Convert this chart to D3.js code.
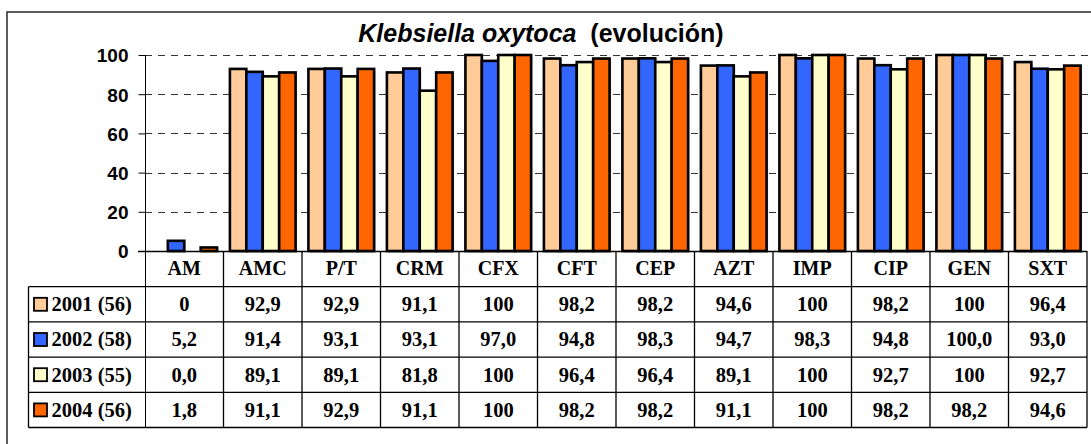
<!DOCTYPE html>
<html>
<head>
<meta charset="utf-8">
<script src="https://cdn.jsdelivr.net/npm/d3@7"></script>
<style>
  html, body { margin: 0; padding: 0; background: #fff; }
  svg { display: block; }
</style>
</head>
<body>
<svg id="chart" width="1091" height="444"></svg>
<script>
// ---- data ----
const categories = ["AM", "AMC", "P/T", "CRM", "CFX", "CFT", "CEP", "AZT", "IMP", "CIP", "GEN", "SXT"];
const seriesNames = ["2001 (56)", "2002 (58)", "2003 (55)", "2004 (56)"];
const values2001 = [0, 92.9, 92.9, 91.1, 100, 98.2, 98.2, 94.6, 100, 98.2, 100, 96.4];
const values2002 = [5.2, 91.4, 93.1, 93.1, 97.0, 94.8, 98.3, 94.7, 98.3, 94.8, 100.0, 93.0];
const values2003 = [0.0, 89.1, 89.1, 81.8, 100, 96.4, 96.4, 89.1, 100, 92.7, 100, 92.7];
const values2004 = [1.8, 91.1, 92.9, 91.1, 100, 98.2, 98.2, 91.1, 100, 98.2, 98.2, 94.6];
// table text as printed
const labels2001 = ["0", "92,9", "92,9", "91,1", "100", "98,2", "98,2", "94,6", "100", "98,2", "100", "96,4"];
const labels2002 = ["5,2", "91,4", "93,1", "93,1", "97,0", "94,8", "98,3", "94,7", "98,3", "94,8", "100,0", "93,0"];
const labels2003 = ["0,0", "89,1", "89,1", "81,8", "100", "96,4", "96,4", "89,1", "100", "92,7", "100", "92,7"];
const labels2004 = ["1,8", "91,1", "92,9", "91,1", "100", "98,2", "98,2", "91,1", "100", "98,2", "98,2", "94,6"];
const yTicks = [0, 20, 40, 60, 80, 100];
const colors = ["#FFCC99", "#3366FF", "#FFFFCC", "#FF6600"];

const seriesValues = [values2001, values2002, values2003, values2004];
const seriesLabels = [labels2001, labels2002, labels2003, labels2004];

// ---- layout ----
const svg = d3.select("#chart");
const plotLeft = 145, plotRight = 1087, plotTop = 55, plotBottom = 251;
const tableLeft = 28.5, rowH = 35.2;
const headerBottom = 286.7;

const x = d3.scaleBand().domain(categories).range([plotLeft, plotRight]).padding(0);
const xi = d3.scaleBand().domain(seriesNames).range([0, x.bandwidth()]).paddingInner(0).paddingOuter(0.39);
const y = d3.scaleLinear().domain([0, 100]).range([plotBottom, plotTop]);

const serif = "'Liberation Serif', 'Times New Roman', serif";
const sans = "'Liberation Sans', Arial, sans-serif";

// outer frame
svg.append("rect").attr("x", 7).attr("y", 12).attr("width", 1100).attr("height", 450)
  .attr("fill", "none").attr("stroke", "#333").attr("stroke-width", 1.6);

// title
const title = svg.append("text").attr("x", 541).attr("y", 41.5)
  .attr("text-anchor", "middle").attr("font-family", sans).attr("font-weight", "bold")
  .attr("font-size", 25).attr("fill", "#000");
title.append("tspan").attr("font-style", "italic").text("Klebsiella oxytoca");
title.append("tspan").text("\u00a0 (evolución)");

// gridlines
const grid = svg.append("g");
grid.selectAll("line").data(yTicks.filter(t => t > 0)).join("line")
  .attr("x1", plotLeft).attr("x2", 1091)
  .attr("y1", d => Math.round(y(d)) + 0.5).attr("y2", d => Math.round(y(d)) + 0.5)
  .attr("stroke", "#333").attr("stroke-width", 1).attr("stroke-dasharray", "7,6");

// y axis
const yAxis = d3.axisLeft(y).tickValues(yTicks).tickSize(7).tickPadding(10).tickFormat(d3.format("d"));
const gy = svg.append("g").attr("transform", `translate(${plotLeft + 0.5},0)`).call(yAxis);
gy.select(".domain").remove();
gy.selectAll(".tick line").attr("stroke", "#000").attr("stroke-width", 1);
gy.selectAll(".tick text").attr("font-family", sans).attr("font-weight", "bold")
  .attr("font-size", 19).attr("fill", "#000").attr("dy", "0.36em");

// bars
const barData = [];
categories.forEach((c, ci) => {
  seriesNames.forEach((s, si) => {
    barData.push({ cat: c, series: s, si: si, value: seriesValues[si][ci] });
  });
});
const visible = barData.filter(d => d.value > 0);
const bars = svg.append("g");
// shadow
bars.selectAll("rect.shadow").data(visible).join("rect").attr("class", "shadow")
  .attr("x", d => x(d.cat) + xi(d.series) + 1.5)
  .attr("y", d => y(d.value) + 1.5)
  .attr("width", xi.bandwidth())
  .attr("height", d => plotBottom - y(d.value))
  .attr("fill", "#999").attr("opacity", 0.6);
bars.selectAll("rect.bar").data(visible).join("rect").attr("class", "bar")
  .attr("x", d => x(d.cat) + xi(d.series))
  .attr("y", d => y(d.value))
  .attr("width", xi.bandwidth())
  .attr("height", d => plotBottom - y(d.value))
  .attr("fill", d => colors[d.si]).attr("stroke", "#000").attr("stroke-width", 2.6);

// y axis line
svg.append("line").attr("x1", plotLeft + 0.5).attr("x2", plotLeft + 0.5)
  .attr("y1", plotTop).attr("y2", headerBottom + rowH * 4)
  .attr("stroke", "#000").attr("stroke-width", 1);

// ---- data table ----
const tbl = svg.append("g");
const tableBottom = headerBottom + rowH * 4;
tbl.append("line").attr("x1", plotLeft - 7).attr("x2", plotRight).attr("y1", plotBottom + 0.5).attr("y2", plotBottom + 0.5)
  .attr("stroke", "#000").attr("stroke-width", 1.3);
tbl.selectAll("line.h").data(d3.range(5)).join("line").attr("class", "h")
  .attr("x1", tableLeft).attr("x2", plotRight)
  .attr("y1", i => headerBottom + i * rowH).attr("y2", i => headerBottom + i * rowH)
  .attr("stroke", "#000").attr("stroke-width", 1.3);
tbl.selectAll("line.v").data(categories).join("line").attr("class", "v")
  .attr("x1", c => x(c) + x.bandwidth()).attr("x2", c => x(c) + x.bandwidth())
  .attr("y1", plotBottom).attr("y2", tableBottom)
  .attr("stroke", "#000").attr("stroke-width", 1.3);
tbl.append("line").attr("x1", tableLeft).attr("x2", tableLeft).attr("y1", headerBottom).attr("y2", tableBottom)
  .attr("stroke", "#000").attr("stroke-width", 1.3);

// category header
tbl.selectAll("text.cat").data(categories).join("text").attr("class", "cat")
  .attr("x", c => x(c) + x.bandwidth() / 2)
  .attr("y", (plotBottom + headerBottom) / 2 + 6.5)
  .attr("text-anchor", "middle").attr("font-family", serif).attr("font-weight", "bold")
  .attr("font-size", 20).attr("fill", "#000").text(c => c);

// rows
seriesNames.forEach((s, si) => {
  const cy = headerBottom + si * rowH + rowH / 2;
  tbl.append("rect").attr("x", 34).attr("y", cy - 6.5).attr("width", 13).attr("height", 13)
    .attr("fill", colors[si]).attr("stroke", "#000").attr("stroke-width", 1.8);
  tbl.append("text").attr("x", 51.5).attr("y", cy + 6.8)
    .attr("font-family", serif).attr("font-weight", "bold").attr("font-size", 20.5).attr("fill", "#000")
    .text(s);
  tbl.selectAll(null).data(categories).join("text")
    .attr("x", c => x(c) + x.bandwidth() / 2)
    .attr("y", cy + 6.8)
    .attr("text-anchor", "middle").attr("font-family", serif).attr("font-weight", "bold")
    .attr("font-size", 20.5).attr("fill", "#000")
    .text((c, ci) => seriesLabels[si][ci]);
});
</script>
</body>
</html>
